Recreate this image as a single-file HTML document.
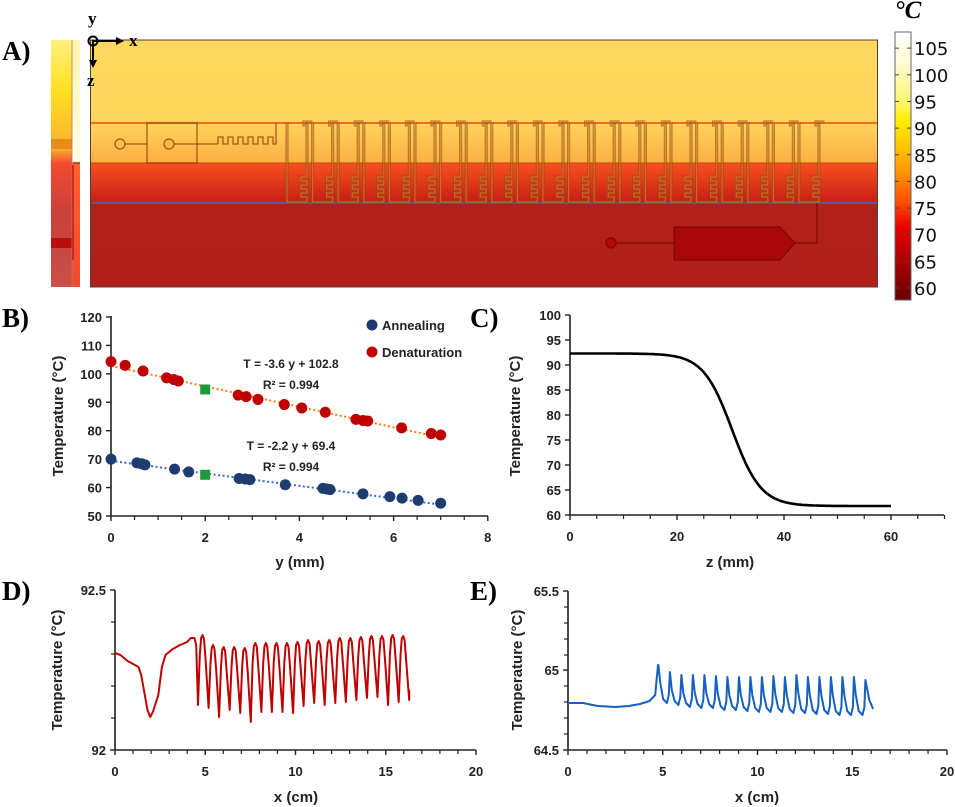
<!DOCTYPE html>
<html><head><meta charset="utf-8"><style>
html,body{margin:0;padding:0;background:#fff;}
svg{display:block;}
.pl{font-family:"Liberation Serif",serif;font-weight:bold;font-size:27px;}
.tk{font-family:"Liberation Sans",sans-serif;font-weight:bold;font-size:13px;fill:#222;}
.al{font-family:"Liberation Sans",sans-serif;font-weight:bold;font-size:15px;fill:#222;}
.cb{font-family:"DejaVu Sans",sans-serif;font-size:18px;fill:#111;}
</style></head><body>
<svg id="s" width="955" height="807" viewBox="0 0 955 807" xmlns="http://www.w3.org/2000/svg">
<defs>
<linearGradient id="mg" x1="0" y1="40" x2="0" y2="287" gradientUnits="userSpaceOnUse">
<stop offset="0" stop-color="#fed85c"/><stop offset="0.336" stop-color="#fed55a"/>
<stop offset="0.5" stop-color="#fbae42"/><stop offset="0.5" stop-color="#f8501f"/>
<stop offset="0.66" stop-color="#c71d17"/><stop offset="0.66" stop-color="#b3201a"/>
<stop offset="1" stop-color="#b11f1a"/></linearGradient>
<linearGradient id="cbg" x1="0" y1="32" x2="0" y2="300" gradientUnits="userSpaceOnUse">
<stop offset="0" stop-color="#ffffff"/><stop offset="0.12" stop-color="#fffbd0"/>
<stop offset="0.26" stop-color="#fff570"/><stop offset="0.33" stop-color="#ffee00"/>
<stop offset="0.43" stop-color="#ffc400"/><stop offset="0.53" stop-color="#ff9000"/>
<stop offset="0.63" stop-color="#ff5000"/><stop offset="0.73" stop-color="#e80000"/>
<stop offset="0.83" stop-color="#b80000"/><stop offset="0.93" stop-color="#880000"/>
<stop offset="1" stop-color="#6a0000"/></linearGradient>
<linearGradient id="sl" x1="0" y1="40" x2="0" y2="287" gradientUnits="userSpaceOnUse">
<stop offset="0" stop-color="#fff080"/><stop offset="0.2" stop-color="#ffe020"/>
<stop offset="0.44" stop-color="#fcb030"/><stop offset="0.5" stop-color="#f44a30"/>
<stop offset="0.7" stop-color="#c8403a"/><stop offset="1" stop-color="#c85048"/></linearGradient>
<linearGradient id="sr" x1="0" y1="40" x2="0" y2="287" gradientUnits="userSpaceOnUse">
<stop offset="0" stop-color="#fff4b0"/><stop offset="0.49" stop-color="#fffde8"/>
<stop offset="0.5" stop-color="#ff6030"/><stop offset="1" stop-color="#f04a30"/></linearGradient>
</defs>

<!-- Panel A -->
<text class="pl" x="2" y="60">A)</text>
<rect x="51" y="40" width="21" height="247" fill="url(#sl)"/>
<rect x="72" y="40" width="8" height="247" fill="url(#sr)"/>
<rect x="51" y="139" width="21" height="10" fill="#e07a10" opacity="0.7"/>
<rect x="51" y="238" width="21" height="10" fill="#b80000" opacity="0.8"/>
<line x1="72" y1="40" x2="72" y2="287" stroke="#b08060" stroke-width="0.8"/>
<line x1="73" y1="163" x2="80" y2="163" stroke="#333" stroke-width="1"/>
<line x1="73" y1="165" x2="73" y2="260" stroke="#d00000" stroke-width="1.2"/>

<rect x="90.5" y="40" width="787" height="247" fill="url(#mg)" stroke="#444" stroke-width="1"/>
<line x1="91" y1="123" x2="877" y2="123" stroke="#ee2a10" stroke-width="1.2"/>
<line x1="91" y1="163" x2="877" y2="163" stroke="#b84a10" stroke-width="1"/>
<line x1="92" y1="203" x2="877" y2="203" stroke="#3a70b8" stroke-width="1.5"/>
<g id="chan" fill="none" stroke="#9a4a0a" stroke-opacity="0.6" stroke-width="1.3"></g>
<g fill="none" stroke="#8a2a00" stroke-opacity="0.7" stroke-width="1.3">
<circle cx="120" cy="144" r="5" fill="#fdc050"/>
<line x1="125" y1="144" x2="147" y2="144"/>
<rect x="147" y="123" width="50" height="40"/>
<circle cx="169" cy="144" r="5" fill="#fdb848"/>
<line x1="174" y1="144" x2="218" y2="144"/>
<path d="M218 144 V137 h5 v7 h5 v-7 h5 v7 h5 v-7 h5 v7 h5 v-7 h5 v7 h5 v-7 h5 v7 h5 v-7 h5 v7 h3 V123"/>
</g>
<g fill="#b40808" stroke="#6a0000" stroke-opacity="0.7" stroke-width="1.2">
<circle cx="611" cy="243" r="5"/>
<line x1="616" y1="243" x2="674" y2="243"/>
<path d="M674 227 H780 L795 243 L780 260 H674 Z" fill="#a80808"/>
<path d="M795 243 H817 V203" fill="none"/>
</g>
<!-- axes icon -->
<circle cx="93" cy="41" r="4.5" fill="none" stroke="#000" stroke-width="2"/>
<circle cx="93" cy="41" r="1.2" fill="#000"/>
<line x1="93" y1="41" x2="118" y2="41" stroke="#000" stroke-width="2"/>
<path d="M124 41 l-8 -4 v8z" fill="#000"/>
<line x1="93" y1="41" x2="93" y2="62" stroke="#000" stroke-width="2"/>
<path d="M93 68 l-4 -8 h8z" fill="#000"/>
<text x="88" y="24" font-family="Liberation Serif" font-weight="bold" font-size="17">y</text>
<text x="129" y="46" font-family="Liberation Serif" font-weight="bold" font-size="17">x</text>
<text x="87" y="86" font-family="Liberation Serif" font-weight="bold" font-size="17">z</text>
<!-- colorbar -->
<text x="908" y="18" font-family="Liberation Serif" font-style="italic" font-weight="bold" font-size="25" text-anchor="middle">°C</text>
<rect x="895" y="32" width="16" height="268" fill="url(#cbg)" stroke="#666" stroke-width="1"/>
<g id="cbt"></g>

<!-- Panel B -->
<text class="pl" x="2" y="327">B)</text>
<g id="pb"></g>
<circle cx="372" cy="325" r="5.5" fill="#1f3c6e"/>
<text x="382" y="330" font-family="Liberation Sans" font-weight="bold" font-size="13" fill="#222">Annealing</text>
<circle cx="372" cy="352" r="5.5" fill="#c00000"/>
<text x="382" y="357" font-family="Liberation Sans" font-weight="bold" font-size="13" fill="#222">Denaturation</text>
<text x="291" y="368" font-family="Liberation Sans" font-weight="bold" font-size="12" text-anchor="middle" fill="#222">T = -3.6 y + 102.8</text>
<text x="291" y="389" font-family="Liberation Sans" font-weight="bold" font-size="12" text-anchor="middle" fill="#222">R² = 0.994</text>
<text x="291" y="450" font-family="Liberation Sans" font-weight="bold" font-size="12" text-anchor="middle" fill="#222">T = -2.2 y + 69.4</text>
<text x="291" y="471" font-family="Liberation Sans" font-weight="bold" font-size="12" text-anchor="middle" fill="#222">R² = 0.994</text>
<text class="al" x="300" y="567" text-anchor="middle">y (mm)</text>
<text class="al" transform="translate(63,416) rotate(-90)" text-anchor="middle">Temperature (°C)</text>

<!-- Panel C -->
<text class="pl" x="470" y="327">C)</text>
<g id="pc"></g>
<text class="al" x="730" y="567" text-anchor="middle">z (mm)</text>
<text class="al" transform="translate(520,416) rotate(-90)" text-anchor="middle">Temperature (°C)</text>

<!-- Panel D -->
<text class="pl" x="2" y="600">D)</text>
<g id="pd"></g>
<text class="al" x="296" y="802" text-anchor="middle">x (cm)</text>
<text class="al" transform="translate(62,670) rotate(-90)" text-anchor="middle">Temperature (°C)</text>

<!-- Panel E -->
<text class="pl" x="470" y="600">E)</text>
<g id="pe"></g>
<text class="al" x="757" y="802" text-anchor="middle">x (cm)</text>
<text class="al" transform="translate(522,670) rotate(-90)" text-anchor="middle">Temperature (°C)</text>
</svg>
<script>
var NS="http://www.w3.org/2000/svg";
function el(p,t,a,txt){var e=document.createElementNS(NS,t);for(var k in a)e.setAttribute(k,a[k]);if(txt!==undefined)e.textContent=txt;document.getElementById(p).appendChild(e);return e;}
var d="";
for(var k=0;k<21;k++){var x0=287+25.6*k;
d+="M"+x0+" 122 V202 H"+(x0+20)+" V197 h-6 v-4 h6 v-4 h-6 v-4 h6 v-4 h-6 v-4 h6 v-4 V125 h-3 V122 H"+(x0+25.6)+" ";}
el("chan","path",{d:d,"stroke-width":"3.2"});
el("chan","path",{d:d,stroke:"#ffd070","stroke-opacity":"0.3","stroke-width":"1.2"});
for(var v=60;v<=105;v+=5){var y=288-(v-60)*5.33;
el("cbt","line",{x1:895,y1:y,x2:899,y2:y,stroke:"#444"});el("cbt","line",{x1:907,y1:y,x2:911,y2:y,stroke:"#444"});
el("cbt","text",{x:914,y:y+7,"class":"cb"},String(v));}
function axes(g,x0,x1,y0,y1,xt,yt,xl,yl,minorX,minorY){
el(g,"line",{x1:x0,y1:y0,x2:x1,y2:y0,stroke:"#222","stroke-width":1.6});
el(g,"line",{x1:x0,y1:y0,x2:x0,y2:y1,stroke:"#222","stroke-width":1.6});
xt.forEach(function(p,i){el(g,"line",{x1:p,y1:y0,x2:p,y2:y0+5,stroke:"#222","stroke-width":1.4});});
minorX.forEach(function(p){el(g,"line",{x1:p,y1:y0,x2:p,y2:y0+4,stroke:"#222","stroke-width":1.2});});
yt.forEach(function(p){el(g,"line",{x1:x0-5,y1:p,x2:x0,y2:p,stroke:"#222","stroke-width":1.4});});
minorY.forEach(function(p){el(g,"line",{x1:x0-4,y1:p,x2:x0,y2:p,stroke:"#222","stroke-width":1.2});});
xl.forEach(function(a){el(g,"text",{x:a[0],y:y0+26,"class":"tk","text-anchor":"middle"},a[1]);});
yl.forEach(function(a){el(g,"text",{x:x0-9,y:a[0]+5,"class":"tk","text-anchor":"end"},a[1]);});}
var bx=function(x){return 111+x*47.1},by=function(t){return 516-(t-50)*2.843};
var xt=[],xl=[],mx=[],yt=[],yl=[];
for(var i=0;i<=8;i+=2){xt.push(bx(i));xl.push([bx(i),String(i)]);}
for(var i=0.5;i<8;i+=0.5)if(i%2)mx.push(bx(i));
for(var t=50;t<=120;t+=10){yt.push(by(t));yl.push([by(t),String(t)]);}
axes("pb",111,488,516,316,xt,yt,xl,yl,mx,[]);
el("pb","line",{x1:bx(0),y1:by(102.8),x2:bx(7),y2:by(102.8-25.2),stroke:"#ff7a10","stroke-width":2,"stroke-dasharray":"2,2.5"});
el("pb","line",{x1:bx(0),y1:by(69.4),x2:bx(7),y2:by(69.4-15.4),stroke:"#3a6ad0","stroke-width":2,"stroke-dasharray":"2,2.5"});
var den=[[0,104.3],[0.3,103],[0.68,101],[1.18,98.6],[1.33,98],[1.43,97.5],[2.7,92.5],[2.87,92],[3.12,91],[3.68,89.2],[4.05,88],[4.55,86.5],[5.2,84],[5.35,83.6],[5.45,83.4],[6.17,81],[6.8,79],[7,78.5]];
var ann=[[0,70],[0.55,68.7],[0.65,68.4],[0.72,68],[1.35,66.5],[1.65,65.5],[2.72,63.2],[2.85,63],[2.95,62.8],[3.7,61],[4.5,59.7],[4.58,59.5],[4.65,59.3],[5.35,57.8],[5.92,56.8],[6.18,56.3],[6.52,55.5],[7,54.5]];
den.forEach(function(p){el("pb","circle",{cx:bx(p[0]),cy:by(p[1]),r:5.5,fill:"#c00000"});});
ann.forEach(function(p){el("pb","circle",{cx:bx(p[0]),cy:by(p[1]),r:5.5,fill:"#1f3c6e"});});
[[2,94.5],[2,64.5]].forEach(function(p){el("pb","rect",{x:bx(p[0])-5,y:by(p[1])-5,width:10,height:10,fill:"#1a9a3a"});});
var cx=function(z){return 570+z*5.35},cy=function(t){return 515-(t-60)*5};
xt=[];xl=[];mx=[];yt=[];yl=[];var my=[];
for(var i=0;i<=60;i+=20){xt.push(cx(i));xl.push([cx(i),String(i)]);}
for(var i=5;i<=70;i+=5)if(i%20)mx.push(cx(i));
for(var t=60;t<=100;t+=5){yt.push(cy(t));yl.push([cy(t),String(t)]);}
axes("pc",570,944,515,315,xt,yt,xl,yl,mx,[]);
var pts=[];for(var z=0;z<=60;z+=0.25){var t=61.8+30.5/(1+Math.exp((z-30.3)/2.7));pts.push(cx(z).toFixed(1)+","+cy(t).toFixed(1));}
el("pc","polyline",{points:pts.join(" "),fill:"none",stroke:"#000","stroke-width":2.6});
var dx=function(x){return 115+x*18.05};
xt=[];xl=[];mx=[];yt=[590,750];yl=[[590,"92.5"],[750,"92"]];my=[622,654,686,718];
for(var i=0;i<=20;i+=5){xt.push(dx(i));xl.push([dx(i),String(i)]);}
for(var i=1;i<20;i++)if(i%5)mx.push(dx(i));
axes("pd",115,476,750,590,xt,yt,xl,yl,mx,my);
pts=[[0,653],[0.3,655],[0.7,661],[1,664],[1.3,667],[1.45,675],[1.6,690],[1.8,710],[1.95,717],[2.1,712],[2.4,695],[2.6,667],[2.8,655],[3.2,649],[3.6,645],[4,642],[4.2,638],[4.4,638],[4.5,645]];
var tr=[705,708,717,710,713,722,712,712,712,713,706,703,705,703,702,700,698,697,705,702];
var pk=[635,645,647,647,648,643,643,643,643,642,640,641,640,638,638,637,636,636,635,636];
for(var k=0;k<20;k++){var t0=4.6+0.585*k;
pts.push([t0,tr[k]]);pts.push([t0+0.1,pk[k]+20]);pts.push([t0+0.17,pk[k]+3]);pts.push([t0+0.25,pk[k]]);pts.push([t0+0.33,pk[k]+4]);pts.push([t0+0.42,pk[k]+25]);}
pts.push([16.3,700]);pts.push([16.3,690]);
el("pd","polyline",{points:pts.map(function(p){return dx(p[0]).toFixed(1)+","+p[1]}).join(" "),fill:"none",stroke:"#c00000","stroke-width":2,"stroke-linejoin":"round"});
var ex=function(x){return 568+x*18.95};
xt=[];xl=[];mx=[];yt=[591,670,750];yl=[[591,"65.5"],[670,"65"],[750,"64.5"]];my=[607,623,639,655,686,702,718,734];
for(var i=0;i<=20;i+=5){xt.push(ex(i));xl.push([ex(i),String(i)]);}
for(var i=1;i<20;i++)if(i%5)mx.push(ex(i));
axes("pe",568,947,750,591,xt,yt,xl,yl,mx,my);
pts=[[0,703],[0.8,703],[1.3,705],[1.6,706],[2.5,707],[3.2,706],[3.8,704],[4.3,701],[4.6,695],[4.75,665]];
var ep=[665,672,675,675,675,676,677,677,677,677,676,677,675,677,677,677,677,677,680];
var et=[703,705,707,708,708,710,710,711,712,712,712,713,713,714,714,715,715,715];
for(var k=0;k<19;k++){var s=4.77+0.607*k;pts.push([s,ep[k]]);
if(k<18){pts.push([s+0.1,ep[k]+18]);pts.push([s+0.25,et[k]-4]);pts.push([s+0.45,et[k]]);pts.push([s+0.55,et[k]-8]);}}
pts.push([15.9,700]);pts.push([16.1,709]);
el("pe","polyline",{points:pts.map(function(p){return ex(p[0]).toFixed(1)+","+p[1]}).join(" "),fill:"none",stroke:"#1560c0","stroke-width":2,"stroke-linejoin":"round"});
</script>
</body></html>
